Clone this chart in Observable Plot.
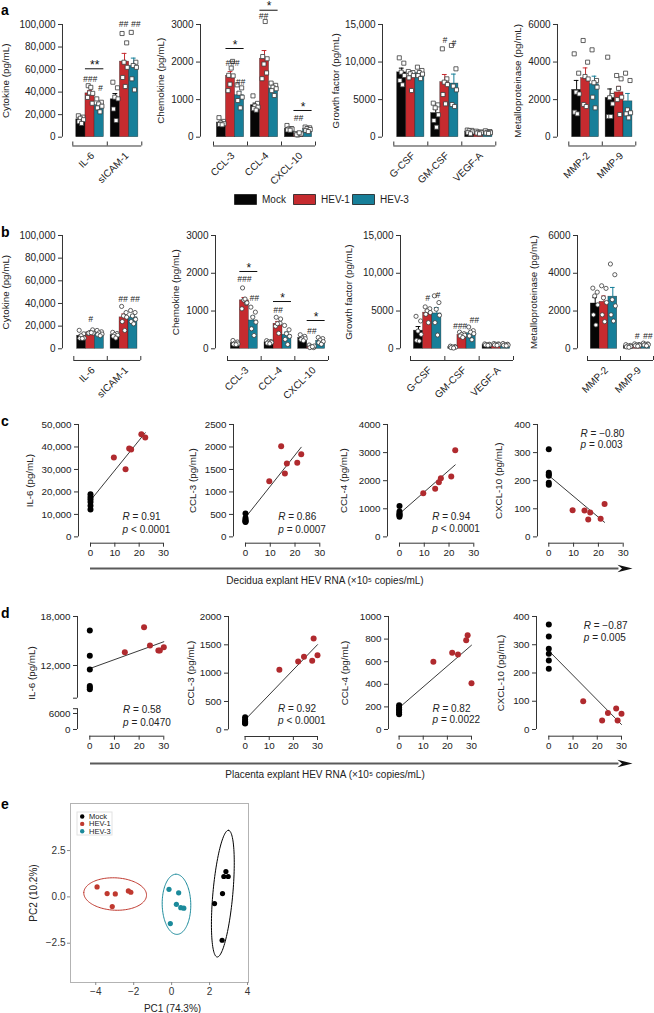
<!DOCTYPE html>
<html><head><meta charset="utf-8">
<script src="https://cdn.jsdelivr.net/npm/d3@7"></script>
<script src="https://cdn.jsdelivr.net/npm/@observablehq/plot@0.6"></script>
<style>
body{margin:0;background:#fff;}
#fig{position:relative;width:654px;height:1013px;overflow:hidden;background:#fff;font-family:"Liberation Sans",Arial,Helvetica,sans-serif;}
.plab{position:absolute;font-weight:bold;font-size:14px;line-height:14px;color:#000;}
</style></head>
<body><div id="fig"></div>
<script>
// ---------------- DATA ----------------
const groups = ["Mock", "HEV-1", "HEV-3"];
const groupKeys = ["mock", "hev1", "hev3"];
const barColors = ["#060606", "#c62b2f", "#177f99"];
const dotRed = "#b02a2e";
const pcaColors = ["#000000", "#c0392f", "#1b8a9b"];

// a — decidua explants (pg/mL)
const aCytokineCats = ["IL-6", "sICAM-1"];
const aChemokineCats = ["CCL-3", "CCL-4", "CXCL-10"];
const aGrowthCats = ["G-CSF", "GM-CSF", "VEGF-A"];
const aMmpCats = ["MMP-2", "MMP-9"];

const decRNA = [9.6, 14.4, 15.9, 16.7, 20.9, 22.5]; // HEV-1 decidua explant RNA (x10^5 copies/mL)
const decIL6 = {mock: [19000, 17800, 16800, 15500, 13800, 12200], hev1: [35300, 30100, 39300, 38900, 45700, 44200], hev3: [34000, 31000, 29500, 27500, 26000, 22500]};
const decSICAM = {mock: [48800, 43800, 35500, 34000, 25000, 14800], hev1: [92000, 83700, 66500, 62000, 53000, 45000], hev3: [93000, 66500, 63600, 62000, 51800, 42000]};
const decCCL3 = {mock: [520, 420, 380, 360, 340, 330], hev1: [1239, 2018, 1410, 1632, 1647, 1840], hev3: [1393, 1313, 1171, 1065, 976, 781]};
const decCCL4 = {mock: [1100, 900, 830, 800, 760, 720], hev1: [1557, 1711, 1947, 2088, 2147, 3080], hev3: [1440, 1380, 1330, 1290, 1240, 1110]};
const decCXCL10 = {mock: [312, 228, 222, 218, 193, 186], hev1: [95, 94, 62, 87, 65, 117], hev3: [270, 250, 230, 205, 180, 150]};
const decGCSF = {mock: [10563, 9853, 8655, 8211, 7545, 6968], hev1: [8744, 8600, 8433, 8200, 7900, 6214], hev3: [9320, 8877, 8600, 8400, 8200, 7800]};
const decGMCSF = {mock: [4527, 4300, 3906, 2974, 2219, 1331], hev1: [11762, 7767, 7323, 7000, 5681, 4438], hev3: [12206, 9099, 6800, 6300, 4350, 4083]};
const decVEGFA = {mock: [950, 900, 850, 700, 600, 450], hev1: [800, 700, 650, 600, 550, 450], hev3: [850, 750, 650, 600, 550, 500]};
const decMMP2 = {mock: [4438, 3408, 2397, 2300, 1331, 1243], hev1: [5148, 3994, 3231, 3100, 1740, 1633], hev3: [4651, 3018, 2900, 2663, 2130, 1562]};
const decMMP9 = {mock: [4260, 2219, 2100, 1775, 1100, 1100], hev1: [3284, 3107, 2600, 2130, 2000, 1207], hev3: [3408, 3018, 1456, 1300, 1243, 1030]};

// b — placenta explants (pg/mL)
const plaRNA = [14.2, 22.0, 24.4, 27.8, 28.4, 30.0]; // HEV-1 placenta explant RNA (x10^5 copies/mL)
const plaIL6 = {mock: [16300, 13200, 11500, 9500, 9300, 9100], hev1: [13633, 16694, 14449, 13837, 13837, 14245], hev3: [16200, 15000, 14000, 13000, 12500, 11500]};
const plaSICAM = {mock: [14500, 13500, 12500, 12000, 11000, 9500], hev1: [37400, 32000, 29000, 27900, 24000, 16200], hev3: [33800, 32000, 29000, 26000, 24000, 22000]};
const plaCCL3 = {mock: [220, 180, 150, 130, 120, 110], hev1: [1059, 1206, 1289, 1218, 1612, 1318], hev3: [1103, 971, 838, 706, 530, 353]};
const plaCCL4 = {mock: [215, 195, 180, 165, 150, 135], hev1: [599, 679, 664, 790, 835, 410], hev3: [618, 503, 400, 330, 250, 115]};
const plaCXCL10 = {mock: [372, 329, 286, 268, 244, 215], hev1: [100, 32, 58, 74, 32, 56], hev3: [300, 270, 230, 190, 160, 120]};
const plaGCSF = {mock: [4300, 3684, 2352, 1908, 1110, 1020], hev1: [5548, 5300, 5015, 4800, 4571, 3462], hev3: [7013, 6125, 5237, 4438, 3462, 1820]};
const plaGMCSF = {mock: [350, 300, 250, 200, 150, 100], hev1: [2200, 2000, 1900, 1800, 1700, 1500], hev3: [2885, 2400, 2200, 2000, 1700, 1200]};
const plaVEGFA = {mock: [650, 600, 550, 500, 500, 450], hev1: [700, 650, 600, 550, 500, 450], hev3: [700, 600, 550, 500, 450, 400]};
const plaMMP2 = {mock: [3213, 3000, 2800, 2325, 1800, 1260], hev1: [3337, 3200, 2700, 2450, 1800, 1437], hev3: [4490, 3923, 2600, 2272, 1800, 1473]};
const plaMMP9 = {mock: [220, 180, 150, 120, 100, 80], hev1: [260, 230, 200, 180, 160, 140], hev3: [300, 260, 240, 220, 200, 160]};

// significance marks: cat index, group index (1 = HEV-1, 2 = HEV-3), value level
const a1Sig = [{cat: 0, g: 1, y: 51800, t: "###"}, {cat: 0, g: 2, y: 43200, t: "#", dx: 1}, {cat: 1, g: 1, y: 100000, t: "##", dx: -1}, {cat: 1, g: 2, y: 100000, t: "##", dx: 2}];
const a1Star = [{cat: 0, y: 60700, t: "**"}];
const a2Sig = [{cat: 0, g: 1, y: 1962, t: "###", dx: 2}, {cat: 0, g: 2, y: 1456, t: "##", dx: 1}, {cat: 1, g: 1, y: 3213, t: "##", dx: -1}, {cat: 2, g: 1, y: 497, t: "##"}];
const a2Star = [{cat: 0, y: 2361, t: "*"}, {cat: 1, y: 3380, t: "*"}, {cat: 2, y: 711, t: "*"}];
const a3Sig = [{cat: 1, g: 1, y: 12870, t: "#"}, {cat: 1, g: 2, y: 12470, t: "#"}];
const b1Sig = [{cat: 0, g: 1, y: 26500, t: "#"}, {cat: 1, g: 1, y: 44100, t: "##", dx: -1}, {cat: 1, g: 2, y: 44100, t: "##", dx: 2}];
const b2Sig = [{cat: 0, g: 1, y: 1835, t: "###"}, {cat: 0, g: 2, y: 1332, t: "##", dx: 1}, {cat: 1, g: 1, y: 1014, t: "##"}, {cat: 2, g: 1, y: 458, t: "##"}];
const b2Star = [{cat: 0, y: 2047, t: "*"}, {cat: 1, y: 1252, t: "*"}, {cat: 2, y: 749, t: "*"}];
const b3Sig = [{cat: 0, g: 1, y: 6750, t: "#"}, {cat: 0, g: 2, y: 7060, t: "#", dx: 1}, {cat: 1, g: 1, y: 2990, t: "###", dx: -2}, {cat: 1, g: 2, y: 3840, t: "##", dx: 3}];
const b4Sig = [{cat: 1, g: 1, y: 651, t: "#"}, {cat: 1, g: 2, y: 651, t: "##", dx: 2}];

// correlation statistics
const cStats = [{r: "= 0.91", p: "< 0.0001"}, {r: "= 0.86", p: "= 0.0007"}, {r: "= 0.94", p: "< 0.0001"}, {r: "= \u22120.80", p: "= 0.003"}];
const dStats = [{r: "= 0.58", p: "= 0.0470"}, {r: "= 0.92", p: "< 0.0001"}, {r: "= 0.82", p: "= 0.0022"}, {r: "= \u22120.87", p: "= 0.005"}];

// e — PCA scores
const pcaMockPC1 = [2.26, 2.68, 2.86, 2.75, 2.98, 2.66];
const pcaMockPC2 = [-0.36, 0.18, 1.37, 1.10, 1.10, -2.34];
const pcaHev1PC1 = [-3.93, -3.40, -2.97, -3.13, -2.28, -2.15];
const pcaHev1PC2 = [0.54, 0.18, 0.16, -0.52, 0.32, 0.25];
const pcaHev3PC1 = [-0.14, 0.37, 0.25, 0.48, 0.64, -0.07];
const pcaHev3PC2 = [0.41, 0.22, -0.40, -0.58, -0.61, -1.44];

// ---------------- HELPERS ----------------
const FONT = '"Liberation Sans", Arial, Helvetica, sans-serif';
const AX = "#333";
const fig = document.getElementById("fig");
const fmtTick = d => Math.abs(d) >= 10000 ? d3.format(",")(d) : String(d);
const spread = [-0.27, 0.23, -0.06, 0.29, -0.2, 0.08];

function makePlot({box: [L, T, R, B], frame: [fl, ft, fr, fb], x, y, color, marks}) {
  const sx = x.range ? {...x, range: x.range.map(v => v - L)} : x;
  const sy = y.range ? {...y, range: y.range.map(v => v - T)} : y;
  const svg = Plot.plot({
    width: R - L, height: B - T,
    marginLeft: fl - L, marginTop: ft - T, marginRight: R - fr, marginBottom: B - fb,
    x: sx, y: sy, color,
    style: {background: "transparent", overflow: "visible", fontFamily: FONT, fontSize: "10px", color: "#222"},
    marks: marks.filter(m => m != null)
  });
  svg.style.position = "absolute";
  svg.style.left = L + "px";
  svg.style.top = T + "px";
  fig.appendChild(svg);
}

function barPanel(o) {
  const n = o.cats.length, w = 0.8 / 3;
  const bars = [], pts = [];
  o.series.forEach((s, i) => {
    groupKeys.forEach((key, j) => {
      const vals = s[key];
      const mean = d3.mean(vals), sem = d3.deviation(vals) / Math.sqrt(vals.length);
      const x1 = i - 0.4 + j * w, xc = x1 + w / 2;
      bars.push({g: groups[j], x1, x2: x1 + w, xc, mean, top: mean + sem});
      vals.forEach((v, k) => pts.push({x: xc + spread[k] * w, y: v}));
    });
  });
  const gx = d => d.cat - 0.4 + (d.g + 0.5) * w;
  const dyB = o.bracketY - o.y0;
  const [bl, br] = o.bx;
  const unit = (br - bl) / n;
  const sig = o.sig || [], star = o.star || [];
  const sigMarks = sig.map(d => Plot.text([d], {x: gx, y: "y", dx: d.dx || 0, text: "t", fontSize: 8.5, fontStyle: "italic", fill: "#222"}));
  const catMarks = o.cats.map((c, i) => Plot.text([c], {frameAnchor: "bottom-left", dx: bl + (i + 0.5) * unit - o.axisX + 2.5, dy: 8, rotate: -45, textAnchor: "end", lineAnchor: "middle", text: d => d, fontSize: 10, fill: "#222"}));
  makePlot({
    box: [o.axisX - 70, o.top - 30, br + 12, o.bracketY + 50],
    frame: [o.axisX, o.top, br + 2, o.bracketY],
    x: {type: "linear", domain: [-0.5, n - 0.5], range: [bl, br], axis: null},
    y: {type: "linear", domain: [0, o.ymax], range: [o.y0, o.top], axis: null},
    color: {domain: groups, range: barColors},
    marks: [
      Plot.ruleX([-0.5], {y1: 0, y2: o.ymax, dx: o.axisX - bl, stroke: AX}),
      Plot.axisY({ticks: o.yticks, tickSize: 4, tickPadding: 3, tickFormat: fmtTick, label: null, fontSize: 10, stroke: AX}),
      Plot.ruleY([0], {x1: -0.5, x2: n - 0.5, dy: dyB, stroke: AX}),
      Plot.ruleX(d3.range(n + 1).map(i => i - 0.5), {x: d => d, y1: 0, y2: 0, dy: dyB, insetBottom: 4, stroke: AX}),
      ...catMarks,
      Plot.text([o.label], {frameAnchor: "left", textAnchor: "middle", lineAnchor: "middle", dx: o.labelX - o.axisX, dy: (o.y0 - o.bracketY) / 2, rotate: -90, text: d => d, fontSize: 9.8}),
      Plot.rectY(bars, {x1: "x1", x2: "x2", y1: 0, y2: "mean", fill: "g", stroke: "#111", strokeOpacity: 0.55, strokeWidth: 0.6}),
      Plot.ruleX(bars, {x: "xc", y1: "mean", y2: "top", stroke: "g", strokeWidth: 1}),
      Plot.ruleY(bars, {x1: d => d.xc - 0.07, x2: d => d.xc + 0.07, y: "top", stroke: "g", strokeWidth: 1}),
      Plot.dot(pts, {x: "x", y: "y", symbol: o.symbol, r: o.symbol === "square" ? 2.3 : 2.1, fill: "white", stroke: "#3a3a3a", strokeWidth: 0.8}),
      ...sigMarks,
      Plot.ruleY(star, {x1: d => d.cat - 0.4 + w, x2: d => d.cat + 0.4, y: "y", stroke: "#111"}),
      Plot.text(star, {x: d => d.cat - 0.4 + 2 * w, y: "y", dy: -3.8, text: "t", fontSize: 12, fill: "#111"})
    ]
  });
}

function scatterPanel(o) {
  const pts = o.mock.map(v => ({x: 0, y: v, g: "Mock"}))
    .concat(o.hev.map((v, i) => ({x: o.rna[i], y: v, g: "HEV-1"})));
  const dyX = o.xAxisY - o.y0;
  const segs = o.segments || [[0, o.ymax]];
  makePlot({
    box: [o.axisX - 60, o.top - 12, o.xr[1] + 20, o.xAxisY + 30],
    frame: [o.axisX, o.top, o.xr[1] + 6, o.xAxisY],
    x: {type: "linear", domain: [0, 30], range: o.xr, axis: null},
    y: o.yScale || {type: "linear", domain: [0, o.ymax], range: [o.y0, o.top], axis: null},
    color: {domain: ["Mock", "HEV-1"], range: ["#000000", dotRed]},
    marks: [
      ...segs.map(([a, b]) => Plot.ruleX([0], {y1: a, y2: b, dx: o.axisX - o.xr[0], stroke: AX})),
      Plot.axisY({ticks: o.yticks, tickSize: 4, tickPadding: 3, tickFormat: fmtTick, label: null, fontSize: 9.8, stroke: AX}),
      o.breakTicks ? Plot.axisY({ticks: o.breakTicks, tickSize: 4, tickFormat: () => "", label: null, stroke: AX}) : null,
      Plot.ruleY([0], {x1: 0, x2: 30, dy: dyX, stroke: AX}),
      Plot.axisX({ticks: [0, 10, 20, 30], tickSize: 4, tickPadding: 2, label: null, fontSize: 9.8, stroke: AX}),
      Plot.text([o.label], {frameAnchor: "left", textAnchor: "middle", lineAnchor: "middle", dx: o.labelX - o.axisX, dy: (o.y0 - o.xAxisY) / 2, rotate: -90, text: d => d, fontSize: 9.8}),
      Plot.linearRegressionY(pts, {x: "x", y: "y", stroke: "#222", strokeWidth: 0.9, ci: 0}),
      Plot.dot(pts, {x: "x", y: "y", r: 3, fill: "g"}),
      Plot.text(["R"], {x: o.sx, y: o.yR, textAnchor: "start", fontStyle: "italic", fontSize: 10, text: d => d}),
      Plot.text([o.stat.r], {x: o.sx, y: o.yR, dx: 10, textAnchor: "start", fontSize: 10, text: d => d}),
      Plot.text(["p"], {x: o.sx, y: o.yP, textAnchor: "start", fontStyle: "italic", fontSize: 10, text: d => d}),
      Plot.text([o.stat.p], {x: o.sx, y: o.yP, dx: 8.5, textAnchor: "start", fontSize: 10, text: d => d})
    ]
  });
}

const arrowHead = {draw(ctx) { ctx.moveTo(0, 0); ctx.lineTo(-15, -3.8); ctx.lineTo(-10.5, 0); ctx.lineTo(-15, 3.8); ctx.closePath(); }};
function arrowAxis(o) {
  makePlot({
    box: [o.x0 - 10, o.y - 10, o.x1 + 10, o.y + 26],
    frame: [o.x0, o.y - 5, o.x1, o.y + 5],
    x: {type: "linear", domain: [0, 1], range: [o.x0, o.x1], axis: null},
    y: {type: "linear", domain: [0, 1], range: [o.y + 5, o.y - 5], axis: null},
    marks: [
      Plot.ruleY([0.5], {x1: 0, x2: 0.975, stroke: "#5a5a5a", strokeWidth: 2}),
      Plot.dot([1], {x: d => d, y: 0.5, symbol: arrowHead, fill: "#111", stroke: null}),
      Plot.text([o.label], {frameAnchor: "middle", textAnchor: "middle", dx: o.labelX - (o.x0 + o.x1) / 2, dy: o.labelDy, fontSize: 10, text: d => d})
    ]
  });
}

function letter(t, x, baseline) {
  const d = document.createElement("div");
  d.className = "plab"; d.textContent = t;
  d.style.left = x + "px"; d.style.top = (baseline - 11.9) + "px";
  fig.appendChild(d);
}

// ---------------- PANEL a ----------------
letter("a", 1, 14.5);
barPanel({cats: aCytokineCats, series: [decIL6, decSICAM], axisX: 61.7, top: 24, y0: 136.7, bracketY: 145.5, bx: [72, 141], ymax: 100000, yticks: [0, 20000, 40000, 60000, 80000, 100000], label: "Cytokine (pg/mL)", labelX: 5, symbol: "square", sig: a1Sig, star: a1Star});
barPanel({cats: aChemokineCats, series: [decCCL3, decCCL4, decCXCL10], axisX: 200, top: 24, y0: 136.7, bracketY: 145.5, bx: [213, 315], ymax: 3000, yticks: [0, 1000, 2000, 3000], label: "Chemokine (pg/mL)", labelX: 160, symbol: "square", sig: a2Sig, star: a2Star});
barPanel({cats: aGrowthCats, series: [decGCSF, decGMCSF, decVEGFA], axisX: 381.7, top: 24, y0: 136.7, bracketY: 145.5, bx: [393, 495], ymax: 15000, yticks: [0, 5000, 10000, 15000], label: "Growth factor (pg/mL)", labelX: 335, symbol: "square", sig: a3Sig});
barPanel({cats: aMmpCats, series: [decMMP2, decMMP9], axisX: 556.7, top: 24, y0: 136.7, bracketY: 145.5, bx: [568, 635], ymax: 6000, yticks: [0, 2000, 4000, 6000], label: "Metalloproteinase (pg/mL)", labelX: 517, symbol: "square"});

// legend (Mock / HEV-1 / HEV-3)
const swatch = {draw(ctx) { ctx.rect(0, -5, 22, 10); }};
makePlot({
  box: [224, 186, 420, 212], frame: [234, 194, 410, 204],
  x: {type: "point", domain: groups, range: [234, 352.5], padding: 0, axis: null},
  y: {type: "linear", domain: [0, 1], range: [204, 194], axis: null},
  color: {domain: groups, range: barColors},
  marks: [
    Plot.dot(groups, {x: d => d, y: 0.5, symbol: swatch, fill: d => d, stroke: "#1a1a1a", strokeWidth: 0.8}),
    Plot.text(groups, {x: d => d, y: 0.5, dx: 27.5, textAnchor: "start", text: d => d, fontSize: 10, fill: "#222"})
  ]
});

// ---------------- PANEL b ----------------
letter("b", 1, 236.7);
barPanel({cats: aCytokineCats, series: [plaIL6, plaSICAM], axisX: 61.7, top: 235, y0: 348.3, bracketY: 360, bx: [73, 140], ymax: 100000, yticks: [0, 20000, 40000, 60000, 80000, 100000], label: "Cytokine (pg/mL)", labelX: 5, symbol: "circle", sig: b1Sig});
barPanel({cats: aChemokineCats, series: [plaCCL3, plaCCL4, plaCXCL10], axisX: 215, top: 235, y0: 348.3, bracketY: 360, bx: [227, 328], ymax: 3000, yticks: [0, 1000, 2000, 3000], label: "Chemokine (pg/mL)", labelX: 175, symbol: "circle", sig: b2Sig, star: b2Star});
barPanel({cats: aGrowthCats, series: [plaGCSF, plaGMCSF, plaVEGFA], axisX: 400, top: 235, y0: 348.3, bracketY: 360, bx: [410, 513], ymax: 15000, yticks: [0, 5000, 10000, 15000], label: "Growth factor (pg/mL)", labelX: 348.5, symbol: "circle", sig: b3Sig});
barPanel({cats: aMmpCats, series: [plaMMP2, plaMMP9], axisX: 577, top: 235, y0: 348.3, bracketY: 360, bx: [587, 653], ymax: 6000, yticks: [0, 2000, 4000, 6000], label: "Metalloproteinase (pg/mL)", labelX: 533, symbol: "circle", sig: b4Sig});

// ---------------- PANEL c ----------------
letter("c", 1, 426);
scatterPanel({mock: decIL6.mock, hev: decIL6.hev1, rna: decRNA, axisX: 78, top: 424.3, y0: 536.7, xAxisY: 543, xr: [90, 163], ymax: 50000, yticks: [0, 10000, 20000, 30000, 40000, 50000], label: "IL-6 (pg/mL)", labelX: 29, stat: cStats[0], sx: 13.2, yR: 8760, yP: 2980});
scatterPanel({mock: decCCL3.mock, hev: decCCL3.hev1, rna: decRNA, axisX: 233, top: 424.3, y0: 536.7, xAxisY: 543, xr: [245, 319.3], ymax: 2500, yticks: [0, 500, 1000, 1500, 2000, 2500], label: "CCL-3 (pg/mL)", labelX: 192, stat: cStats[1], sx: 13.2, yR: 438, yP: 149});
scatterPanel({mock: decCCL4.mock, hev: decCCL4.hev1, rna: decRNA, axisX: 387, top: 424.3, y0: 536.7, xAxisY: 543, xr: [399, 473.3], ymax: 4000, yticks: [0, 1000, 2000, 3000, 4000], label: "CCL-4 (pg/mL)", labelX: 343, stat: cStats[2], sx: 13.2, yR: 730, yP: 283});
scatterPanel({mock: decCXCL10.mock, hev: decCXCL10.hev1, rna: decRNA, axisX: 537, top: 424.3, y0: 536.7, xAxisY: 543, xr: [548.3, 622.7], ymax: 400, yticks: [0, 100, 200, 300, 400], label: "CXCL-10 (pg/mL)", labelX: 498, stat: cStats[3], sx: 12.8, yR: 368, yP: 326});
arrowAxis({x0: 90, x1: 632, y: 568, label: "Decidua explant HEV RNA (\u00d710\u2075 copies/mL)", labelX: 324.5, labelDy: 12.7});

// ---------------- PANEL d ----------------
letter("d", 1, 618);
scatterPanel({mock: plaIL6.mock, hev: plaIL6.hev1, rna: plaRNA, axisX: 77, top: 616, y0: 729, xAxisY: 735.7, xr: [89.3, 163.3],
  yScale: {type: "linear", domain: [0, 7800, 8000, 18000], range: [729, 708.2, 697.7, 616], axis: null},
  segments: [[0, 7800], [8000, 18000]], breakTicks: [7800, 8000],
  yticks: [0, 6000, 12000, 18000], label: "IL-6 (pg/mL)", labelX: 31, stat: dStats[0], sx: 13.5, yR: 7500, yP: 2625});
scatterPanel({mock: plaCCL3.mock, hev: plaCCL3.hev1, rna: plaRNA, axisX: 227.7, top: 615.7, y0: 729, xAxisY: 735.7, xr: [244.3, 316.7], ymax: 2000, yticks: [0, 500, 1000, 1500, 2000], label: "CCL-3 (pg/mL)", labelX: 190, stat: dStats[1], sx: 13.6, yR: 371, yP: 159});
scatterPanel({mock: plaCCL4.mock, hev: plaCCL4.hev1, rna: plaRNA, axisX: 387.7, top: 616, y0: 729, xAxisY: 735.7, xr: [398.3, 470.7], ymax: 1000, yticks: [0, 200, 400, 600, 800, 1000], label: "CCL-4 (pg/mL)", labelX: 344.5, stat: dStats[2], sx: 13.8, yR: 186, yP: 88});
scatterPanel({mock: plaCXCL10.mock, hev: plaCXCL10.hev1, rna: plaRNA, axisX: 536, top: 616, y0: 729, xAxisY: 735.7, xr: [548.3, 621], ymax: 400, yticks: [0, 100, 200, 300, 400], label: "CXCL-10 (pg/mL)", labelX: 500, stat: dStats[3], sx: 14.4, yR: 368, yP: 326});
arrowAxis({x0: 90, x1: 632, y: 762.7, label: "Placenta explant HEV RNA (\u00d710\u2075 copies/mL)", labelX: 324.5, labelDy: 11.5});

// ---------------- PANEL e ----------------
letter("e", 1, 809);
const pcaSets = [[pcaMockPC1, pcaMockPC2], [pcaHev1PC1, pcaHev1PC2], [pcaHev3PC1, pcaHev3PC2]];
const pcaPts = pcaSets.flatMap(([xs, ys], j) => xs.map((x, i) => ({x, y: ys[i], g: groups[j]})));
function ellipse(xs, ys, g) {
  const n = xs.length, mx = d3.mean(xs), my = d3.mean(ys);
  let sxx = 0, syy = 0, sxy = 0;
  for (let i = 0; i < n; i++) { const dx = xs[i] - mx, dy = ys[i] - my; sxx += dx * dx; syy += dy * dy; sxy += dx * dy; }
  sxx /= n - 1; syy /= n - 1; sxy /= n - 1;
  const tr = sxx + syy, det = sxx * syy - sxy * sxy, disc = Math.sqrt(Math.max(0, tr * tr / 4 - det));
  const l1 = tr / 2 + disc, l2 = Math.max(0, tr / 2 - disc);
  const th = Math.atan2(l1 - sxx, sxy);
  const c = Math.sqrt(5.991); // 95% normal ellipse
  return d3.range(0, 121).map(k => {
    const t = k / 120 * 2 * Math.PI;
    const u = c * Math.sqrt(l1) * Math.cos(t), v = c * Math.sqrt(l2) * Math.sin(t);
    return {x: mx + u * Math.cos(th) - v * Math.sin(th), y: my + u * Math.sin(th) + v * Math.cos(th), g};
  });
}
const ellPts = pcaSets.flatMap(([xs, ys], j) => ellipse(xs, ys, groups[j]));
const legendBox = (index, scales, values, dims) => {
  const r = document.createElementNS("http://www.w3.org/2000/svg", "rect");
  r.setAttribute("x", dims.marginLeft + 7); r.setAttribute("y", dims.marginTop + 9);
  r.setAttribute("width", 35); r.setAttribute("height", 23);
  r.setAttribute("fill", "none"); r.setAttribute("stroke", "#e2e2e2");
  return r;
};
makePlot({
  box: [10, 790, 262, 1013], frame: [70, 803, 248, 982],
  x: {type: "linear", domain: [-5.33, 4.05], axis: null},
  y: {type: "linear", domain: [-4.62, 5.04], axis: null},
  color: {domain: groups, range: pcaColors},
  marks: [
    Plot.frame({stroke: "#b3b3b3"}),
    Plot.axisX({ticks: [-4, -2, 0, 2, 4], tickSize: 3, tickPadding: 2, tickFormat: d3.format("d"), label: null, fontSize: 10, stroke: "#888", fill: "#333"}),
    Plot.axisY({ticks: [-2.5, 0, 2.5], tickSize: 3, tickPadding: 2, tickFormat: d3.format(".1f"), label: null, fontSize: 10, stroke: "#888", fill: "#333"}),
    Plot.line(ellPts, {x: "x", y: "y", z: "g", stroke: "g", strokeWidth: 1}),
    Plot.dot(pcaPts, {x: "x", y: "y", r: 2.6, fill: "g"}),
    legendBox,
    ...groups.map((gname, i) => Plot.dot([gname], {frameAnchor: "top-left", dx: 11.7, dy: 13 + i * 7.4, r: 2.2, fill: pcaColors[i]})),
    ...groups.map((gname, i) => Plot.text([gname], {frameAnchor: "top-left", dx: 18.5, dy: 13 + i * 7.4, textAnchor: "start", lineAnchor: "middle", fontSize: 7.5, text: d => d, fill: "#222"})),
    Plot.text(["PC1 (74.3%)"], {frameAnchor: "bottom", textAnchor: "middle", lineAnchor: "middle", dx: 13, dy: 26, fontSize: 10, text: d => d, fill: "#222"}),
    Plot.text(["PC2 (10.2%)"], {frameAnchor: "left", textAnchor: "middle", lineAnchor: "middle", dx: -37, rotate: -90, fontSize: 10, text: d => d, fill: "#222"})
  ]
});
</script>
</body></html>
